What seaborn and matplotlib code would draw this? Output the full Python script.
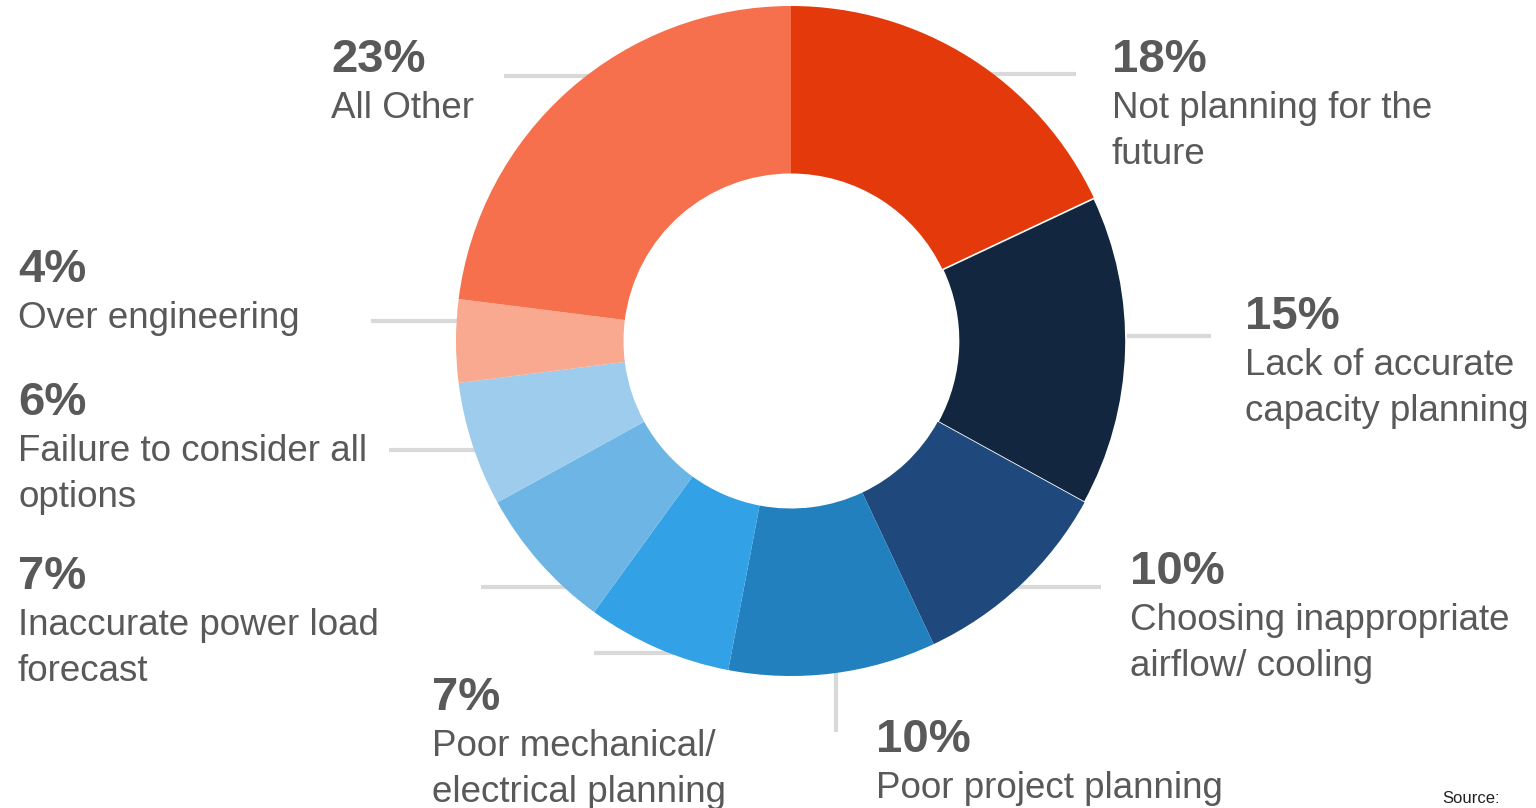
import numpy as np
import seaborn as sns
import matplotlib.pyplot as plt

# slices, clockwise from 12 o'clock
shares = [18, 15, 10, 10, 7, 7, 6, 4, 23]
labels = [
    "Not planning for the\nfuture",
    "Lack of accurate\ncapacity planning",
    "Choosing inappropriate\nairflow/ cooling",
    "Poor project planning",
    "Poor mechanical/\nelectrical planning",
    "Inaccurate power load\nforecast",
    "Failure to consider all\noptions",
    "Over engineering",
    "All Other",
]
colors = ["#E43A0B", "#12263F", "#1F497D", "#2280BE", "#33A1E6",
          "#6DB5E4", "#9DCCEC", "#F9A990", "#F7704D"]

# layout: text anchors (px from top-left, baseline of the % line),
# leader angle nudges (deg) and leader direction
text_pos = [(1112, 72), (1245, 329), (1130, 584), (876, 752), (432, 710),
            (18, 589), (18, 415), (18, 282), (331, 72)]
angle_nudge = [-3.7, 2.7, -1.4, 0.6, 4.5, 6.9, 1.3, -3.5, -4.9]
leader_dir = ["h", "h", "h", "v", "h", "h", "h", "h", "h"]

W, H = 1536, 808
cx, cy, R = 791, 341, 335

sns.set_theme(style="white")
plt.rcParams["font.family"] = ["Liberation Sans", "DejaVu Sans"]

fig = plt.figure(figsize=(W / 100, H / 100), dpi=100)
half = 350
ax = fig.add_axes([(cx - half) / W, (H - cy - half) / H, 2 * half / W, 2 * half / H])
wedges, _ = ax.pie(shares, colors=colors, startangle=90, counterclock=False,
                   wedgeprops=dict(width=0.5, linewidth=0))
# only the dark navy slice shows a fine white seam in the original
wedges[1].set_edgecolor("white")
wedges[1].set_linewidth(1.2)
lim = half / R
ax.set_xlim(-lim, lim)
ax.set_ylim(-lim, lim)
ax.set_aspect("equal")
ax.axis("off")

# leader lines
total = sum(shares)
start = 90.0
for i, s in enumerate(shares):
    sweep = 360.0 * s / total
    mid = np.deg2rad(start - sweep / 2 + angle_nudge[i])
    start -= sweep
    x0, y0 = 0.985 * np.cos(mid), 0.985 * np.sin(mid)
    if leader_dir[i] == "v":
        x1, y1 = x0, y0 - 0.19
    else:
        x1, y1 = x0 + np.sign(x0) * 0.27, y0
    ax.plot([x0, x1], [y0, y1], color="#D9D9D9", lw=3, solid_capstyle="butt",
            clip_on=False, zorder=0)

# labels
txt = "#595959"
for (px, py), s, lab in zip(text_pos, shares, labels):
    fig.text(px / W, 1 - py / H, f"{s}%", fontsize=34, fontweight="bold",
             color=txt, va="baseline", ha="left")
    for j, line in enumerate(lab.split("\n")):
        fig.text(px / W, 1 - (py + 46 * (j + 1)) / H, line, fontsize=26.5,
                 color=txt, va="baseline", ha="left")

fig.text(1442 / W, 1 - 803 / H, "Source:", fontsize=12, color="#222222",
         va="baseline", ha="left")

fig.savefig("out.png", dpi=100, facecolor="white")
